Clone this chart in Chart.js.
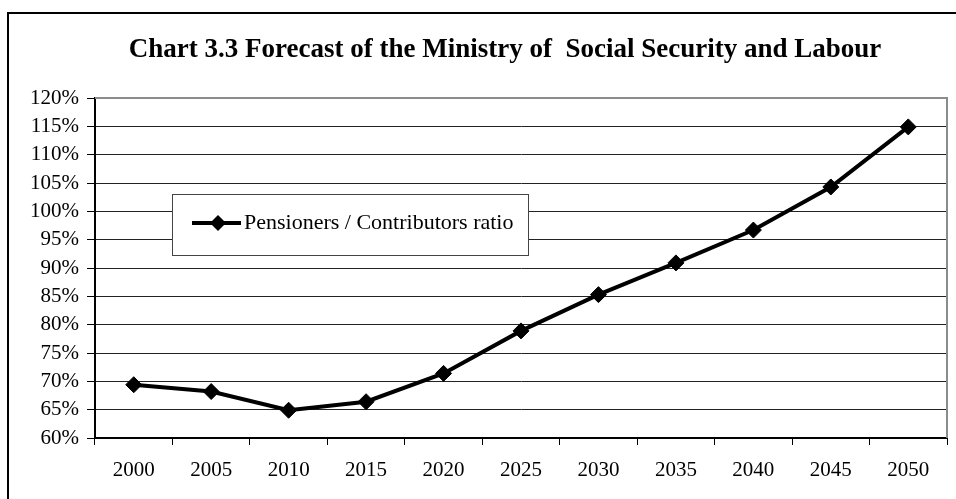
<!DOCTYPE HTML>
<html>
<head>
	<meta charset="UTF-8">
	<title>Chart 3.3 Forecast of the Ministry of Social Security and Labour</title>
	<script src="https://cdn.jsdelivr.net/npm/chart.js"></script>
	<style>
		body {
			margin: 0;
			padding: 0;
			background: #fff;
		}

		#wrap {
			position: relative;
			width: 956px;
			height: 499px;
		}
	</style>
</head>
<body>
	<div id="wrap">
		<canvas id="ratioChart" width="956" height="499"></canvas>
	</div>

	<script>
		// data
		var years = ['2000', '2005', '2010', '2015', '2020', '2025', '2030', '2035', '2040', '2045', '2050'];
		var ratioValues = [69.4, 68.2, 64.9, 66.4, 71.4, 78.9, 85.3, 90.9, 96.7, 104.3, 114.9];
		var seriesName = 'Pensioners / Contributors ratio';
		var chartTitle = 'Chart 3.3 Forecast of the Ministry of  Social Security and Labour';
		var yMin = 60, yMax = 120, yStep = 5;

		var serif = "'Liberation Serif', 'Times New Roman', serif";

		// outer frame (only top and left edges show in the picture), title, plot frame and legend box
		var extrasPlugin = {
			id: 'extras',
			beforeDraw: function (chart) {
				var ctx = chart.ctx;
				ctx.save();
				ctx.strokeStyle = '#000';
				ctx.lineWidth = 2;
				ctx.beginPath();
				ctx.moveTo(8, 520);
				ctx.lineTo(8, 13);
				ctx.lineTo(980, 13);
				ctx.stroke();

				ctx.fillStyle = '#000';
				ctx.font = 'bold 27px ' + serif;
				ctx.textAlign = 'center';
				ctx.textBaseline = 'middle';
				ctx.fillText(chartTitle, 505, 50);
				ctx.restore();
			},
			beforeDatasetsDraw: function (chart) {
				var ctx = chart.ctx;
				var a = chart.chartArea;
				ctx.save();
				ctx.strokeStyle = '#8c8c8c';
				ctx.lineWidth = 2;
				ctx.beginPath();
				ctx.moveTo(a.left, a.top);
				ctx.lineTo(a.right, a.top);
				ctx.lineTo(a.right, a.bottom);
				ctx.stroke();

				// legend box
				var bx = a.left + 77, by = a.top + 96, bw = 356, bh = 61;
				ctx.fillStyle = '#fff';
				ctx.fillRect(bx, by, bw, bh);
				ctx.strokeStyle = '#444';
				ctx.lineWidth = 1;
				ctx.strokeRect(bx + 0.5, by + 0.5, bw, bh);
				var cy = by + 29;
				ctx.strokeStyle = '#000';
				ctx.lineWidth = 4;
				ctx.beginPath();
				ctx.moveTo(bx + 20, cy);
				ctx.lineTo(bx + 69, cy);
				ctx.stroke();
				ctx.fillStyle = '#000';
				ctx.beginPath();
				ctx.moveTo(bx + 46, cy - 8);
				ctx.lineTo(bx + 54, cy);
				ctx.lineTo(bx + 46, cy + 8);
				ctx.lineTo(bx + 38, cy);
				ctx.closePath();
				ctx.fill();
				ctx.font = '22px ' + serif;
				ctx.textBaseline = 'middle';
				ctx.textAlign = 'left';
				ctx.fillText(seriesName, bx + 72, cy);
				ctx.restore();
			}
		};

		var ctx = document.getElementById('ratioChart').getContext('2d');
		var myChart = new Chart(ctx, {
			type: 'line',
			data: {
				labels: years,
				datasets: [{
					label: seriesName,
					data: ratioValues,
					borderColor: '#000',
					backgroundColor: '#000',
					borderWidth: 4,
					pointStyle: 'rectRot',
					pointRadius: 8,
					pointBorderWidth: 1,
					tension: 0,
					clip: false
				}]
			},
			options: {
				responsive: false,
				animation: false,
				layout: {
					padding: { left: 0, right: 6, top: 98, bottom: 0 }
				},
				plugins: {
					legend: { display: false },
					tooltip: { enabled: false },
					title: { display: false }
				},
				scales: {
					x: {
						offset: true,
						afterFit: function (scale) { scale.height = 61; },
						grid: {
							offset: true,
							drawOnChartArea: false,
							drawTicks: true,
							tickLength: 7,
							tickColor: '#000',
							tickWidth: 1
						},
						border: { color: '#000', width: 2 },
						ticks: {
							color: '#000',
							padding: 13,
							maxRotation: 0,
							font: { family: serif, size: 21 }
						}
					},
					y: {
						min: yMin,
						max: yMax,
						afterFit: function (scale) { scale.width = 95; },
						grid: {
							color: '#222',
							lineWidth: 1,
							tickLength: 8,
							tickColor: '#000'
						},
						border: { color: '#000', width: 2 },
						ticks: {
							stepSize: yStep,
							autoSkip: false,
							color: '#000',
							padding: 8,
							font: { family: serif, size: 21 },
							callback: function (v) { return v + '%'; }
						}
					}
				}
			},
			plugins: [extrasPlugin]
		});
	</script>
</body>
</html>
